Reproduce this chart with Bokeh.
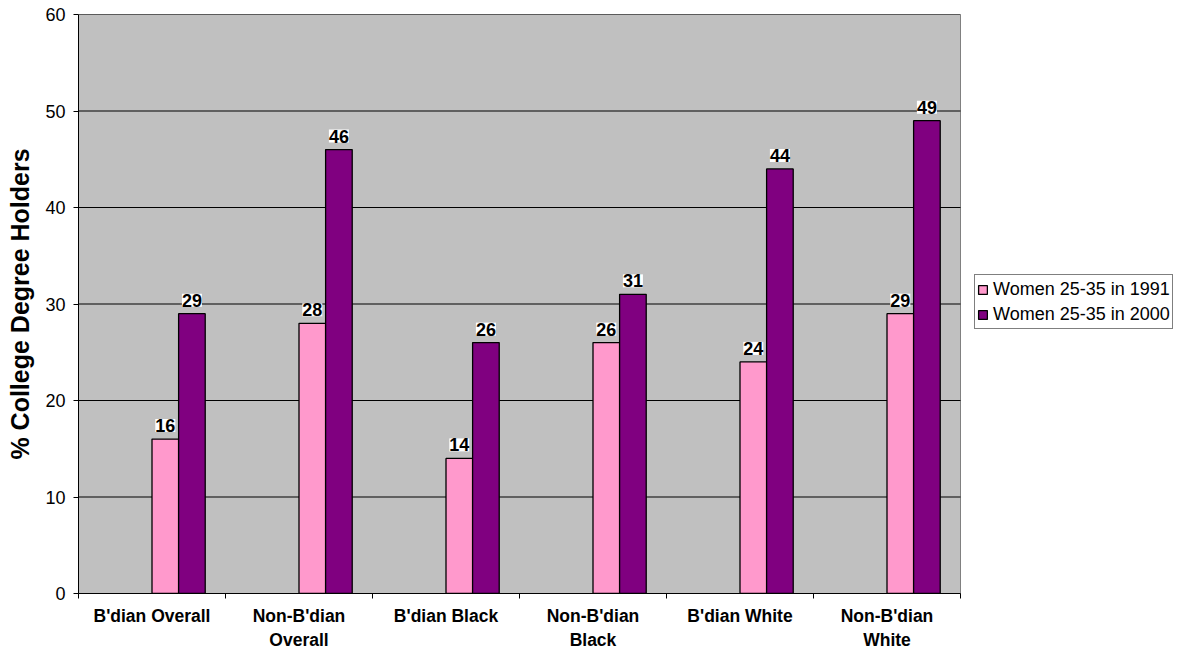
import numpy as np
from bokeh.plotting import figure
from bokeh.models import ColumnDataSource, FixedTicker, LabelSet, Legend, LegendItem, Range1d
from bokeh.core.properties import value
from bokeh.embed import file_html
from bokeh.resources import INLINE

categories = ["B'dian Overall", "Non-B'dian\nOverall", "B'dian Black", "Non-B'dian\nBlack", "B'dian White", "Non-B'dian\nWhite"]
series_names = ["Women 25-35 in 1991", "Women 25-35 in 2000"]
values_1991 = [16, 28, 14, 26, 24, 29]
values_2000 = [29, 46, 26, 31, 44, 49]
y_ticks = [0, 10, 20, 30, 40, 50, 60]

FONT = "Liberation Sans"
PINK = "#FF99CC"
PURPLE = "#800080"

W, H = 1178, 652
LEFT, TOP, BOTTOM = 78, 14, 59
PLOT_W = 882  # width of the grey plot area in pixels
FRAME_W = W - LEFT

n = len(categories)
idx = np.arange(n)
bw = 0.181
x1 = idx + 0.5 + bw / 2
x2 = idx + 0.5 + bw * 1.5

s1 = ColumnDataSource(dict(x=x1, top=values_1991, lbl=[str(v) for v in values_1991]))
s2 = ColumnDataSource(dict(x=x2, top=values_2000, lbl=[str(v) for v in values_2000]))

x_end = n * FRAME_W / PLOT_W
p = figure(width=W, height=H, output_backend="svg", toolbar_location=None,
           x_range=Range1d(0, x_end), y_range=Range1d(y_ticks[0], y_ticks[-1]))
p.min_border_left = LEFT
p.min_border_top = TOP
p.min_border_right = 0
p.min_border_bottom = BOTTOM
p.background_fill_color = "white"
p.border_fill_color = "white"
p.outline_line_color = None

# grey plot area
p.quad(left=0, right=n, bottom=y_ticks[0], top=y_ticks[-1], fill_color="#C0C0C0",
       line_color="#808080", line_width=1)
# horizontal grid lines limited to the plot area
p.segment(x0=[0] * len(y_ticks), x1=[n] * len(y_ticks), y0=y_ticks, y1=y_ticks,
          line_color="black", line_width=1)

r1 = p.vbar(x="x", top="top", bottom=0, width=bw, source=s1, fill_color=PINK, line_color="black", line_width=1.3)
r2 = p.vbar(x="x", top="top", bottom=0, width=bw, source=s2, fill_color=PURPLE, line_color="black", line_width=1.3)

for s in (s1, s2):
    p.add_layout(LabelSet(x="x", y="top", text="lbl", source=s, text_align="center", text_baseline="bottom",
                          y_offset=7, text_font=value(FONT), text_font_style="bold", text_font_size="18px",
                          text_color="black", background_fill_color="white"))

p.xgrid.visible = False
p.ygrid.visible = False

# y axis
p.yaxis.ticker = FixedTicker(ticks=y_ticks)
p.yaxis.axis_line_color = "black"
p.yaxis.major_tick_line_color = "black"
p.yaxis.major_tick_out = 5
p.yaxis.major_tick_in = 0
p.yaxis.minor_tick_line_color = None
p.yaxis.major_label_text_font = FONT
p.yaxis.major_label_text_font_size = "18px"
p.yaxis.major_label_text_color = "black"
p.yaxis.major_label_standoff = 8
p.yaxis.axis_label = "% College Degree Holders"
p.yaxis.axis_label_text_font = FONT
p.yaxis.axis_label_text_font_style = "bold"
p.yaxis.axis_label_text_font_size = "25px"
p.yaxis.axis_label_text_color = "black"
p.yaxis.axis_label_standoff = 8

# x axis
centers = list(idx + 0.5)
p.xaxis.bounds = (0, n)
p.xaxis.ticker = FixedTicker(ticks=centers, minor_ticks=list(range(n + 1)))
p.xaxis.major_label_overrides = {float(c): lab for c, lab in zip(centers, categories)}
p.xaxis.major_tick_line_color = None
p.xaxis.major_tick_out = 0
p.xaxis.major_tick_in = 0
p.xaxis.minor_tick_line_color = "black"
p.xaxis.minor_tick_out = 5
p.xaxis.minor_tick_in = 0
p.xaxis.axis_line_color = "black"
p.xaxis.major_label_text_font = FONT
p.xaxis.major_label_text_font_style = "bold"
p.xaxis.major_label_text_font_size = "17.5px"
p.xaxis.major_label_text_color = "black"
p.xaxis.major_label_standoff = 7

legend = Legend(items=[LegendItem(label=series_names[0], renderers=[r1]),
                       LegendItem(label=series_names[1], renderers=[r2])],
                location=(896, 264), orientation="vertical")
legend.label_text_font = FONT
legend.label_text_font_size = "18px"
legend.label_text_color = "black"
legend.glyph_width = 11
legend.glyph_height = 11
legend.label_standoff = 5
legend.label_height = 24
legend.spacing = 1
legend.padding = 2
legend.margin = 0
legend.border_line_color = "black"
legend.border_line_width = 1
legend.background_fill_color = "white"
legend.background_fill_alpha = 1
p.add_layout(legend, "center")

open("out.html", "w").write(file_html(p, INLINE))
